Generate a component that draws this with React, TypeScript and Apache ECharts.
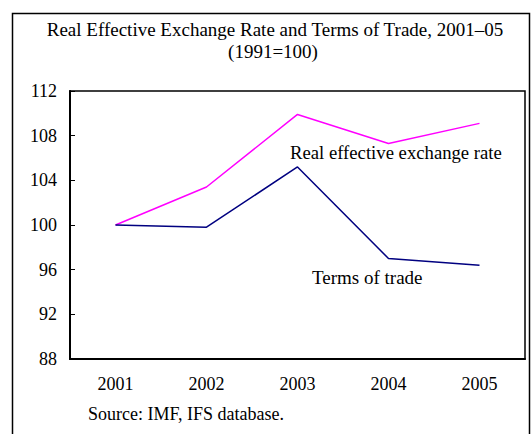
import React, { useEffect, useRef } from "react";
import * as echarts from "echarts";

const years = ["2001", "2002", "2003", "2004", "2005"];
const reer = [100, 103.4, 109.9, 107.3, 109.1];
const tot = [100, 99.8, 105.2, 97.0, 96.4];
const titleLines = ["Real Effective Exchange Rate and Terms of Trade, 2001–05", "(1991=100)"];
const reerLabel = "Real effective exchange rate";
const totLabel = "Terms of trade";
const sourceText = "Source: IMF, IFS database.";

const FONT = "'Liberation Serif', 'Times New Roman', serif";

export default function App() {
  const ref = useRef<HTMLDivElement>(null);
  useEffect(() => {
    if (!ref.current) return;
    const chart = echarts.init(ref.current, null, { renderer: "svg" });
    chart.setOption({
      animation: false,
      backgroundColor: "#ffffff",
      textStyle: { fontFamily: FONT, color: "#000" },
      grid: {
        left: 70,
        right: 7,
        top: 91,
        bottom: 75,
        show: true,
        borderColor: "#000",
        borderWidth: 1.5,
        backgroundColor: "transparent",
      },
      xAxis: {
        type: "category",
        data: years,
        boundaryGap: true,
        axisLine: { lineStyle: { color: "#000", width: 2 } },
        axisTick: { inside: true, length: 5, lineStyle: { color: "#000", width: 1 } },
        axisLabel: { margin: 16, fontSize: 18, fontFamily: FONT, color: "#000" },
        splitLine: { show: false },
      },
      yAxis: {
        type: "value",
        min: 88,
        max: 112,
        interval: 4,
        axisLine: { show: true, lineStyle: { color: "#000", width: 2 } },
        axisTick: { show: true, inside: true, length: 5, lineStyle: { color: "#000", width: 1 } },
        axisLabel: { margin: 13, fontSize: 18, fontFamily: FONT, color: "#000" },
        splitLine: { show: false },
      },
      series: [
        {
          name: reerLabel,
          type: "line",
          data: reer,
          symbol: "none",
          lineStyle: { color: "#ff00ff", width: 1.5 },
          itemStyle: { color: "#ff00ff" },
        },
        {
          name: totLabel,
          type: "line",
          data: tot,
          symbol: "none",
          lineStyle: { color: "#000080", width: 1.5 },
          itemStyle: { color: "#000080" },
        },
      ],
      graphic: [
        {
          type: "rect",
          shape: { x: 12.5, y: 13.5, width: 517, height: 440 },
          style: { fill: "none", stroke: "#000", lineWidth: 1.5 },
          silent: true,
        },
        {
          type: "text",
          x: 275,
          y: 29,
          style: {
            text: titleLines[0],
            font: `19px ${FONT}`,
            fill: "#000",
            textAlign: "center",
            textVerticalAlign: "middle",
          },
        },
        {
          type: "text",
          x: 273,
          y: 51,
          style: {
            text: titleLines[1],
            font: `19px ${FONT}`,
            fill: "#000",
            textAlign: "center",
            textVerticalAlign: "middle",
          },
        },
        {
          type: "text",
          x: 290,
          y: 152,
          style: {
            text: reerLabel,
            font: `18.7px ${FONT}`,
            fill: "#000",
            textAlign: "left",
            textVerticalAlign: "middle",
          },
        },
        {
          type: "text",
          x: 312,
          y: 277,
          style: {
            text: totLabel,
            font: `19px ${FONT}`,
            fill: "#000",
            textAlign: "left",
            textVerticalAlign: "middle",
          },
        },
        {
          type: "text",
          x: 88,
          y: 414,
          style: {
            text: sourceText,
            font: `18px ${FONT}`,
            fill: "#000",
            textAlign: "left",
            textVerticalAlign: "middle",
          },
        },
      ],
    });
    return () => chart.dispose();
  }, []);
  return (
    <div
      ref={ref}
      style={{ position: "fixed", left: 0, top: 0, width: 532, height: 434 }}
    />
  );
}
